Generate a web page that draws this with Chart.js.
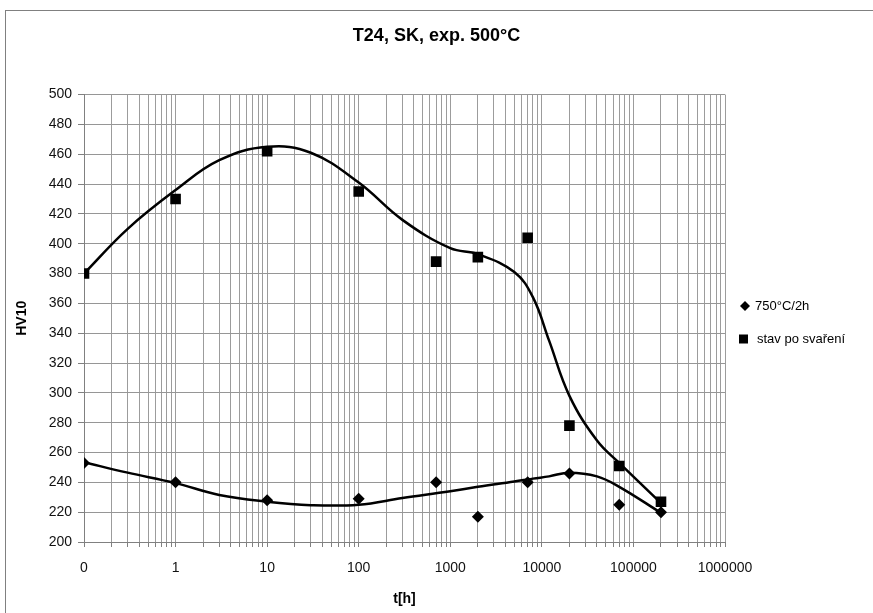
<!DOCTYPE html>
<html>
<head>
<meta charset="utf-8">
<script src="https://cdn.jsdelivr.net/npm/chart.js@4.4.1/dist/chart.umd.min.js"></script>
<style>
  body { margin: 0; background: #fff; }
  canvas { display: block; }
</style>
</head>
<body>
<canvas id="myChart" width="873" height="613"></canvas>
<script>
// measured points
const timeH = [0.1, 1, 10, 100, 700, 2000, 7000, 20000, 70000, 200000];
const hv750 = [253, 240, 228, 229, 240, 217, 240, 246, 225, 220];
const hvWeld = [380, 430, 462, 435, 388, 391, 404, 278, 251, 227];

// trend curves
const fitT = [0.1, 0.3, 1, 3, 10, 30, 100, 300, 1000, 2000, 5000, 8000, 12000, 20000, 40000, 70000, 200000];
const fitWeld = [380, 410, 436, 456, 465, 461, 441, 416, 397, 393, 381, 364, 335, 298, 268, 253, 226];
const fit750 = [253.5, 246.5, 239.5, 231.5, 227, 224.7, 225, 229.5, 234, 237, 240.5, 242.5, 244, 246.5, 244, 237, 219.5];

const seriesNames = ['750°C/2h', 'stav po svaření'];

// log axis ticks 0.1 .. 1e6
const xTicks = [];
for (let e = -1; e < 6; e++) {
    for (let m = 1; m < 10; m++) xTicks.push(m * Math.pow(10, e));
}
xTicks.push(1e6);

function isDecade(v) {
    const l = Math.log10(v);
    return Math.abs(l - Math.round(l)) < 1e-6;
}

const toXY = (xs, ys) => xs.map((x, i) => ({ x: x, y: ys[i] }));

const font = 'Arial, "Liberation Sans", sans-serif';

// white background, outer frame and legend
const framePlugin = {
    id: 'frame',
    beforeDraw(chart) {
        const ctx = chart.ctx;
        ctx.save();
        ctx.fillStyle = '#fff';
        ctx.fillRect(0, 0, chart.width, chart.height);
        ctx.strokeStyle = '#808080';
        ctx.lineWidth = 1;
        ctx.strokeRect(5.5, 10.5, chart.width + 20, chart.height + 20);
        ctx.restore();
    },
    afterDraw(chart) {
        const ctx = chart.ctx;
        ctx.save();
        ctx.fillStyle = '#000';
        ctx.font = '13px ' + font;
        ctx.textBaseline = 'middle';
        const y1 = 306, y2 = 339;
        // diamond
        ctx.beginPath();
        ctx.moveTo(745, y1 - 5);
        ctx.lineTo(750, y1);
        ctx.lineTo(745, y1 + 5);
        ctx.lineTo(740, y1);
        ctx.closePath();
        ctx.fill();
        ctx.fillText(seriesNames[0], 755, y1);
        // square
        ctx.fillRect(739, y2 - 4.5, 9, 9);
        ctx.fillText(seriesNames[1], 757, y2);
        ctx.restore();
    }
};

const ctx = document.getElementById('myChart').getContext('2d');

new Chart(ctx, {
    type: 'scatter',
    data: {
        datasets: [{
            label: seriesNames[0],
            data: toXY(timeH, hv750),
            showLine: false,
            pointStyle: 'rectRot',
            pointRadius: 6,
            pointBackgroundColor: '#000',
            pointBorderColor: '#000',
            pointBorderWidth: 0
        }, {
            label: seriesNames[1],
            data: toXY(timeH, hvWeld),
            showLine: false,
            pointStyle: 'rect',
            pointRadius: 7.5,
            pointBackgroundColor: '#000',
            pointBorderColor: '#000',
            pointBorderWidth: 0
        }, {
            label: 'fit750',
            data: toXY(fitT, fit750),
            showLine: true,
            borderColor: '#000',
            borderWidth: 2.5,
            pointRadius: 0,
            tension: 0.4
        }, {
            label: 'fitWeld',
            data: toXY(fitT, fitWeld),
            showLine: true,
            borderColor: '#000',
            borderWidth: 2.5,
            pointRadius: 0,
            tension: 0.4
        }]
    },
    options: {
        responsive: false,
        animation: false,
        devicePixelRatio: 1,
        layout: { padding: 0 },
        plugins: {
            legend: { display: false },
            tooltip: { enabled: false },
            title: {
                display: true,
                text: 'T24, SK, exp. 500°C',
                color: '#000',
                font: { family: font, size: 18, weight: 'bold' },
                padding: { top: 25, bottom: 48 }
            }
        },
        scales: {
            x: {
                type: 'logarithmic',
                min: 0.1,
                max: 1e6,
                afterBuildTicks: scale => {
                    scale.ticks = xTicks.map(v => ({ value: v }));
                },
                afterFit: scale => { scale.height = 71; },
                ticks: {
                    autoSkip: false,
                    maxRotation: 0,
                    padding: 13,
                    color: '#111',
                    font: { family: font, size: 14 },
                    callback: value => {
                        if (!isDecade(value)) return '';
                        return value < 1 ? '0' : String(Math.round(value));
                    }
                },
                grid: {
                    color: '#9c9c9c',
                    lineWidth: 1,
                    tickLength: 5,
                    tickColor: '#808080'
                },
                border: { color: '#808080' },
                title: {
                    display: true,
                    text: 't[h]',
                    color: '#000',
                    font: { family: font, size: 14, weight: 'bold' },
                    padding: { top: 0, bottom: 5 }
                }
            },
            y: {
                min: 200,
                max: 500,
                afterFit: scale => { scale.width = 84; },
                ticks: {
                    stepSize: 20,
                    padding: 6,
                    color: '#111',
                    font: { family: font, size: 14 }
                },
                grid: {
                    color: '#969696',
                    lineWidth: 1,
                    tickLength: 6,
                    tickColor: '#808080'
                },
                border: { color: '#808080' },
                title: {
                    display: true,
                    text: 'HV10',
                    color: '#000',
                    font: { family: font, size: 14, weight: 'bold' },
                    padding: { top: 14, bottom: 0 }
                }
            },
            // empty right axis that keeps room for the legend
            yRight: {
                position: 'right',
                min: 200,
                max: 500,
                afterFit: scale => { scale.width = 148; },
                ticks: { display: false },
                grid: { display: false },
                border: { display: false }
            }
        }
    },
    plugins: [framePlugin]
});
</script>
</body>
</html>
